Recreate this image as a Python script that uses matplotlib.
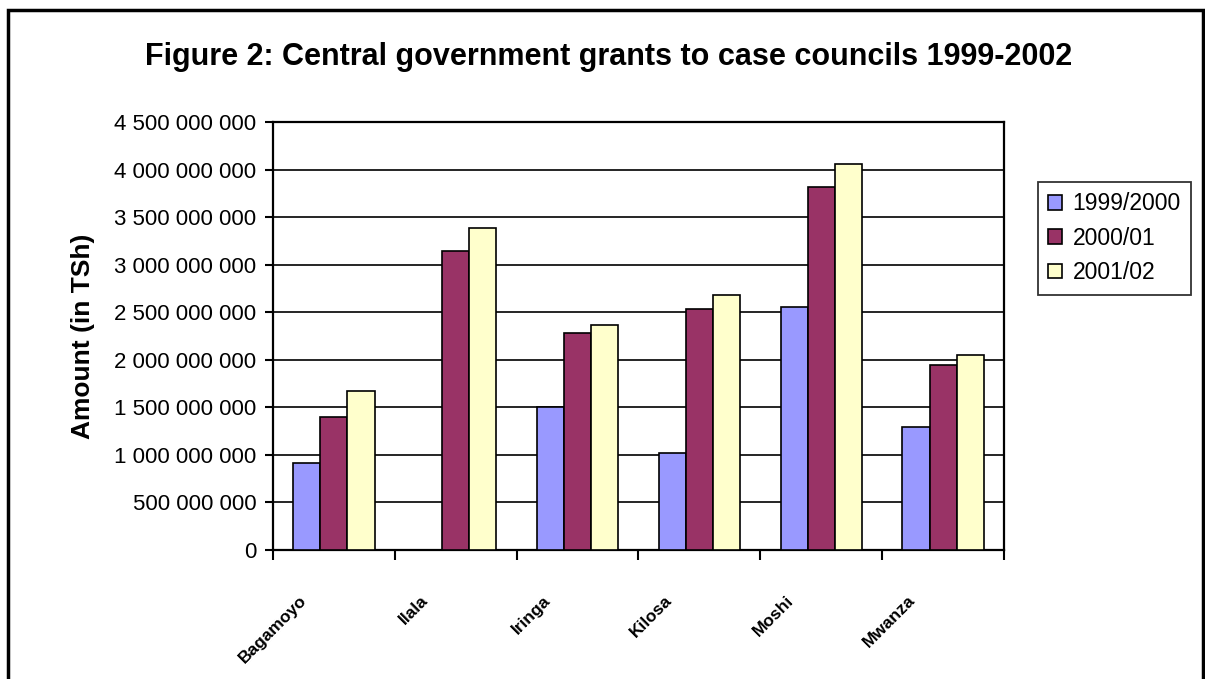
import matplotlib
matplotlib.use("Agg")
import matplotlib.pyplot as plt
import matplotlib.transforms as mtransforms
from matplotlib.patches import Rectangle
import numpy as np

plt.rcParams['font.family'] = ['Liberation Sans', 'DejaVu Sans']

councils = ["Bagamoyo", "Ilala", "Iringa", "Kilosa", "Moshi", "Mwanza"]
series_names = ["1999/2000", "2000/01", "2001/02"]
v1999 = [918e6, 0, 1507e6, 1023e6, 2555e6, 1297e6]
v2000 = [1400e6, 3144e6, 2285e6, 2534e6, 3820e6, 1949e6]
v2001 = [1675e6, 3383e6, 2369e6, 2685e6, 4055e6, 2054e6]
colors = ["#9999FF", "#993366", "#FFFFCC"]
yticks = np.arange(0, 4.5e9 + 1, 5e8)

W, H = 1205, 679
fig = plt.figure(figsize=(W / 100, H / 100), dpi=100)
ax = fig.add_axes([273 / W, 1 - 550 / H, (1004 - 273) / W, (550 - 122) / H])

x = np.arange(len(councils))
bw = 1 / 4.5
for k, vals in enumerate([v1999, v2000, v2001]):
    ax.bar(x + (k - 1) * bw, vals, width=bw, color=colors[k], edgecolor='black',
           linewidth=1.2, label=series_names[k], zorder=3)

ax.set_xlim(-0.5, len(councils) - 0.5)
ax.set_ylim(0, 4.5e9)
ax.set_yticks(yticks)
ax.set_yticklabels([f"{int(v):,}".replace(",", " ") for v in yticks], fontsize=16)
ax.yaxis.grid(True, color='black', linewidth=1.2, zorder=0)
ax.set_axisbelow(True)

ax.set_xticks(np.arange(-0.5, len(councils), 1.0))
ax.set_xticklabels([])
ax.set_xticks(x, minor=True)
ax.tick_params(axis='x', which='major', direction='out', length=7, width=1.5)
ax.tick_params(axis='x', which='minor', direction='in', length=5, width=1.5)
ax.tick_params(axis='y', direction='out', length=6, width=1.5, pad=6)
for s in ax.spines.values():
    s.set_linewidth(1.6)
    s.set_color('black')

trans = mtransforms.blended_transform_factory(ax.transData, ax.transAxes)
for i, name in enumerate(councils):
    off = mtransforms.ScaledTranslation(-0.30, -0.48, fig.dpi_scale_trans)
    ax.text(i, 0, name, transform=trans + off, rotation=45, rotation_mode='anchor',
            ha='right', va='center', fontsize=12.5, fontweight='bold')

ax.set_ylabel("Amount (in TSh)", fontsize=19, fontweight='bold', labelpad=14)

fig.text(609 / W, 1 - 57 / H, "Figure 2: Central government grants to case councils 1999-2002",
         ha='center', va='center', fontsize=22, fontweight='bold')

leg = ax.legend(loc='upper left', bbox_to_anchor=(1038 / W, 1 - 182 / H),
                bbox_transform=fig.transFigure, fontsize=16.5, frameon=True,
                fancybox=False, edgecolor='black', borderpad=0.45, labelspacing=0.5,
                handlelength=0.6, handleheight=0.6, handletextpad=0.45, borderaxespad=0)
leg.get_frame().set_linewidth(1.3)
for p in leg.get_patches():
    p.set_linewidth(1.2)

fig.patches.append(Rectangle((8 / W, -0.05), (1203 - 8) / W, 1.05 - 10 / H,
                             transform=fig.transFigure, fill=False,
                             edgecolor='black', linewidth=2.5))

fig.savefig("out.png", dpi=100)
